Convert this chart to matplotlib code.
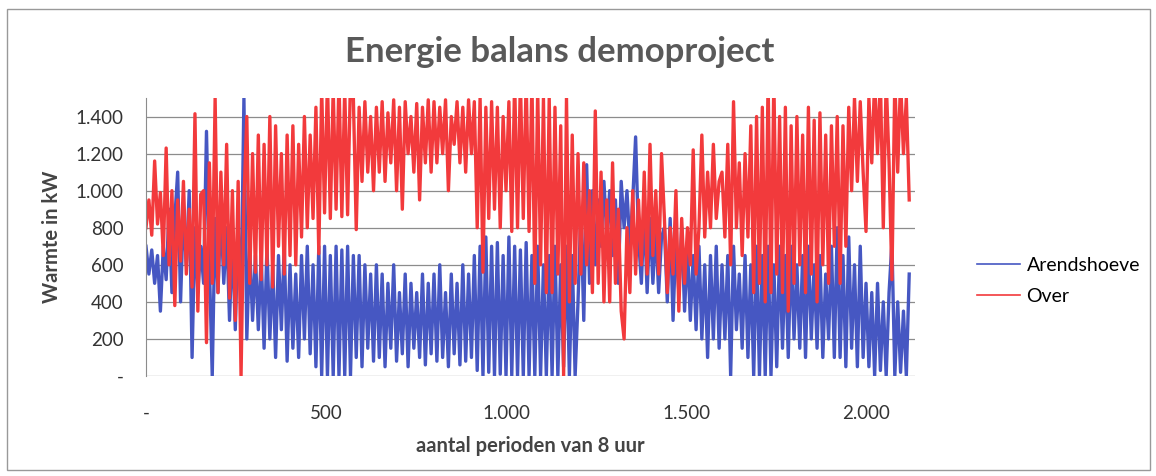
import numpy as np
import matplotlib
matplotlib.use('Agg')
import matplotlib.pyplot as plt
from matplotlib.ticker import FuncFormatter, MultipleLocator
from matplotlib.patches import Rectangle

plt.rcParams['font.family'] = ['Lato', 'DejaVu Sans']

# one sample every 8 periods
step = 8

arendshoeve = (
    [700, 550, 680, 500, 650, 350, 700, 520, 900, 450, 850, 1100, 400, 900, 600, 1000, 100, 800, 450, 700]
    + [500, 1320, 600, 0, 850, 450, 900, 500, 800, 300, 750, 250, 800, 400, 1500, 200, 700, 300, 650, 250]
    + [650, 150, 700, 200, 600, 100, 650, 250, 700, 80, 600, 150, 550, 100, 650, 200, 700, 120, 600, 50]
    + [700, 0, 700, 0, 650, 0, 700, 0, 680, 0, 700, 0, 650, 100, 650, 50, 600, 150, 550, 80]
    + [600, 100, 550, 50, 500, 150, 600, 80, 450, 120, 550, 50, 500, 150, 450, 100, 550, 60, 500, 120]
    + [550, 80, 600, 100, 450, 50, 550, 120, 500, 60, 600, 80, 550, 100, 650, 30, 700, 0, 750, 20]
    + [700, 0, 720, 10, 650, 0, 750, 0, 700, 0, 680, 0, 720, 0, 650, 0, 700, 0, 600, 0]
    + [650, 0, 700, 0, 600, 50, 700, 0, 650, 0, 400, 900, 300, 1140, 500, 1000, 600, 950, 700, 1050]
    + [750, 1000, 650, 950, 500, 1050, 800, 1000, 700, 950, 1290, 750, 500, 900, 450, 850, 500, 800, 450, 750]
    + [800, 400, 850, 300, 750, 450, 800, 350, 700, 300, 650, 250, 700, 200, 600, 100, 650, 200, 700, 150]
    + [600, 200, 650, 0, 700, 250, 550, 150, 650, 100, 600, 0, 700, 0, 650, 0, 700, 0, 600, 50]
    + [700, 150, 650, 100, 700, 200, 600, 150, 650, 100, 700, 200, 600, 150, 650, 100, 550, 200, 700, 100]
    + [800, 100, 650, 50, 750, 150, 600, 50, 700, 100, 500, 50, 450, 0, 500, 30, 400, 0, 450, 720]
    + [0, 400, 20, 350, 0, 550]
)

over = (
    [800, 950, 760, 1160, 820, 990, 650, 1230, 600, 1000, 380, 950, 620, 1050, 550, 900, 480, 1415, 350, 980]
    + [1000, 180, 1150, 500, 1500, 450, 1100, 600, 1250, 420, 1000, 300, 1050, 0, 950, 1400, 500, 1200, 560, 1300]
    + [520, 1250, 600, 1400, 480, 1350, 700, 1200, 550, 1300, 650, 1350, 600, 1250, 750, 1400, 800, 1300, 850, 1450]
    + [660, 1550, 880, 1600, 850, 1550, 900, 1600, 860, 1550, 870, 1600, 1500, 790, 1450, 1050, 1480, 1100, 1400, 1000]
    + [1450, 1100, 1480, 1050, 1420, 1150, 1490, 1000, 1450, 900, 1480, 1200, 1400, 1100, 1470, 950, 1450, 1150, 1490, 1100]
    + [1480, 1150, 1450, 1200, 1490, 1000, 1400, 1250, 1480, 1150, 1450, 1100, 1490, 1200, 1480, 800, 1500, 560, 1450, 850]
    + [1480, 900, 1450, 800, 1400, 1000, 1480, 780, 1600, 800, 1600, 850, 1600, 780, 1600, 500, 1550, 600, 1500, 450]
    + [1500, 450, 1450, 550, 1350, 0, 1500, 400, 1300, 500, 1200, 550, 1150, 600, 1000, 450, 1430, 500, 1100, 400]
    + [950, 400, 1150, 500, 900, 350, 200, 800, 450, 1000, 550, 950, 600, 1100, 550, 1250, 650, 1000, 550, 1200]
    + [850, 450, 800, 550, 1000, 350, 850, 500, 800, 600, 1220, 550, 800, 1300, 750, 1100, 800, 1250, 850, 1050]
    + [1100, 750, 1250, 600, 1480, 800, 1150, 650, 1200, 750, 1350, 450, 1400, 500, 1450, 400, 1600, 450, 1600, 550]
    + [1400, 450, 1450, 350, 1350, 500, 1400, 600, 1300, 450, 1450, 550, 1380, 400, 1420, 600, 1300, 500, 1350, 700]
    + [1400, 500, 1350, 700, 1450, 1000, 1500, 1050, 1480, 1100, 780, 1500, 1150, 1600, 1200, 1600, 800, 1600, 1150, 520]
    + [1600, 1100, 1600, 1200, 1500, 950]
)

x = np.arange(len(over)) * step

def nl_fmt(v, pos):
    if v == 0:
        return '-'
    return '{:,.0f}'.format(v).replace(',', '.')

fig = plt.figure(figsize=(11.56, 4.76), dpi=100)
ax = fig.add_axes([0.1263, 0.2101, 0.7915 - 0.1263, 0.7941 - 0.2101])

ax.plot(x, arendshoeve, color='#4657c2', lw=2.4, label='Arendshoeve')
ax.plot(x, over, color='#f23a3c', lw=2.4, label='Over')

ax.set_xlim(0, 2136)
ax.set_ylim(0, 1500)
ax.yaxis.set_major_locator(MultipleLocator(200))
ax.xaxis.set_major_locator(MultipleLocator(500))
ax.xaxis.set_major_formatter(FuncFormatter(nl_fmt))
ax.yaxis.set_major_formatter(FuncFormatter(nl_fmt))
ax.grid(axis='y', color='#8c8c8c', lw=0.9)
ax.set_axisbelow(True)
for s in ['top', 'right', 'bottom']:
    ax.spines[s].set_visible(False)
ax.spines['left'].set_color('#8c8c8c')
ax.tick_params(length=0, labelsize=13.5, colors='#333333')
ax.tick_params(axis='x', pad=21)
ax.tick_params(axis='y', pad=16)

ax.set_ylabel('Warmte in kW', fontsize=14.5, fontweight='bold', color='#444444', labelpad=10)
ax.set_xlabel('aantal perioden van 8 uur', fontsize=14.5, fontweight='bold', color='#444444', labelpad=10)
fig.suptitle('Energie balans demoproject', x=0.484, y=0.925, fontsize=25, fontweight='bold', color='#595959')

leg = ax.legend(loc='center left', bbox_to_anchor=(977 / 1156, 1 - 281 / 476),
                bbox_transform=fig.transFigure, frameon=False, fontsize=14,
                handlelength=2.2, handletextpad=0.35, labelspacing=0.75,
                borderpad=0, borderaxespad=0)
for line in leg.get_lines():
    line.set_linewidth(1.2)

fig.patches.append(Rectangle((0.006, 0.012), 0.989, 0.97, transform=fig.transFigure,
                             fill=False, edgecolor='#999999', lw=1.0))

fig.savefig('out.png', dpi=100)
